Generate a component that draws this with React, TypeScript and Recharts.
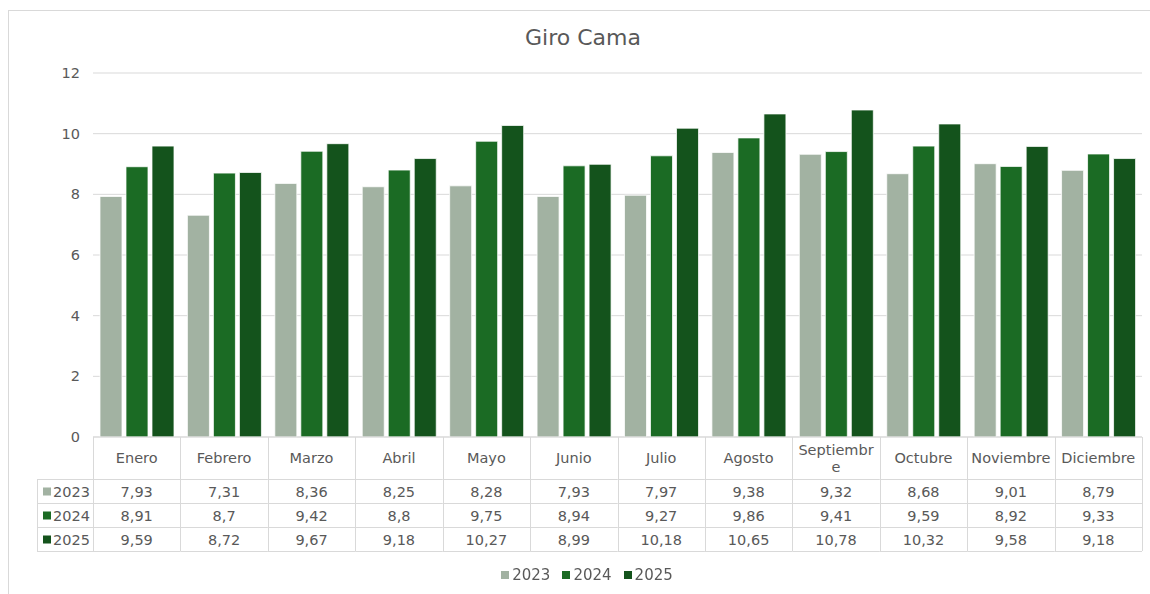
import React from 'react';
import { BarChart, Bar, XAxis, YAxis, CartesianGrid, Legend } from 'recharts';

const MONTHS = ['Enero', 'Febrero', 'Marzo', 'Abril', 'Mayo', 'Junio', 'Julio', 'Agosto', 'Septiembre', 'Octubre', 'Noviembre', 'Diciembre'];
const V2023 = [7.93, 7.31, 8.36, 8.25, 8.28, 7.93, 7.97, 9.38, 9.32, 8.68, 9.01, 8.79];
const V2024 = [8.91, 8.7, 9.42, 8.8, 9.75, 8.94, 9.27, 9.86, 9.41, 9.59, 8.92, 9.33];
const V2025 = [9.59, 8.72, 9.67, 9.18, 10.27, 8.99, 10.18, 10.65, 10.78, 10.32, 9.58, 9.18];
const SERIES_NAMES = ['2023', '2024', '2025'];
const SERIES_VALUES = [V2023, V2024, V2025];
const COLORS = ['#A2B2A2', '#1B6B24', '#14531C'];
const Y_TICKS = [0, 2, 4, 6, 8, 10, 12];

const data = MONTHS.map((m, i) => ({
  month: m,
  s2023: V2023[i],
  s2024: V2024[i],
  s2025: V2025[i],
}));
const KEYS = ['s2023', 's2024', 's2025'];

const W = 1150;
const H = 594;
const MARGIN = { top: 73, right: 8, left: 53, bottom: 0 };
const YAXIS_W = 40;
const XAXIS_H = 157;
const PLOT_LEFT = MARGIN.left + YAXIS_W;
const PLOT_W = W - PLOT_LEFT - MARGIN.right;
const PLOT_BOTTOM = H - MARGIN.bottom - XAXIS_H;
const BAND = PLOT_W / MONTHS.length;
const HEADER_H = 42;
const ROW_H = 24;
const LEG_LEFT = 37;
const FONT = '"DejaVu Sans", sans-serif';
const TEXT = '#595959';
const LINE = '#d9d9d9';

const fmt = (v: number) => String(v).replace('.', ',');

function wrapLabel(s: string): string[] {
  if (s.length > 9) return [s.slice(0, 9), s.slice(9)];
  return [s];
}

function TableTick(props: any) {
  const { x, payload } = props;
  const index = payload.index ?? props.index;
  const left = x - BAND / 2;
  const right = x + BAND / 2;
  const top = PLOT_BOTTOM;
  const bottom = top + HEADER_H + ROW_H * 3;
  const lines = wrapLabel(String(payload.value));
  const els: React.ReactNode[] = [];
  els.push(<line key="vl" x1={Math.round(left) + 0.5} x2={Math.round(left) + 0.5} y1={top} y2={bottom} stroke={LINE} />);
  els.push(<line key="vr" x1={Math.round(right) + 0.5} x2={Math.round(right) + 0.5} y1={top} y2={bottom} stroke={LINE} />);
  for (let r = 0; r <= 3; r++) {
    const yy = top + HEADER_H + ROW_H * r + 0.5;
    els.push(<line key={'h' + r} x1={left} x2={right} y1={yy} y2={yy} stroke={LINE} />);
  }
  const hc = top + HEADER_H / 2;
  if (lines.length === 1) {
    els.push(
      <text key="lab" x={x} y={hc} textAnchor="middle" dominantBaseline="central" fontSize={14.5} fill={TEXT} fontFamily={FONT}>
        {lines[0]}
      </text>
    );
  } else {
    lines.forEach((ln, k) => {
      els.push(
        <text key={'lab' + k} x={x} y={hc - 8 + k * 17} textAnchor="middle" dominantBaseline="central" fontSize={14.5} fill={TEXT} fontFamily={FONT}>
          {ln}
        </text>
      );
    });
  }
  SERIES_VALUES.forEach((vals, s) => {
    els.push(
      <text key={'v' + s} x={x} y={top + HEADER_H + ROW_H * s + ROW_H / 2 + 0.5} textAnchor="middle" dominantBaseline="central" fontSize={14.5} fill={TEXT} fontFamily={FONT}>
        {fmt(vals[index])}
      </text>
    );
  });
  if (index === 0) {
    els.push(<line key="ll" x1={LEG_LEFT + 0.5} x2={LEG_LEFT + 0.5} y1={top + HEADER_H} y2={bottom} stroke={LINE} />);
    for (let r = 0; r <= 3; r++) {
      const yy = top + HEADER_H + ROW_H * r + 0.5;
      els.push(<line key={'lh' + r} x1={LEG_LEFT} x2={left} y1={yy} y2={yy} stroke={LINE} />);
    }
    SERIES_NAMES.forEach((nm, s) => {
      const cy = top + HEADER_H + ROW_H * s + ROW_H / 2 + 0.5;
      els.push(<rect key={'ls' + s} x={LEG_LEFT + 6} y={cy - 4} width={8} height={8} fill={COLORS[s]} />);
      els.push(
        <text key={'lt' + s} x={LEG_LEFT + 16} y={cy} dominantBaseline="central" fontSize={14.5} fill={TEXT} fontFamily={FONT}>
          {nm}
        </text>
      );
    });
  }
  return <g>{els}</g>;
}

function LegendContent(props: any) {
  const { payload } = props;
  return (
    <div style={{ display: 'flex', justifyContent: 'center', alignItems: 'center', gap: 12, fontFamily: FONT, fontSize: 15, color: TEXT }}>
      {(payload || []).map((p: any) => (
        <div key={p.value} style={{ display: 'flex', alignItems: 'center' }}>
          <span style={{ display: 'inline-block', width: 8, height: 8, background: p.color, marginRight: 3 }} />
          <span>{p.value}</span>
        </div>
      ))}
    </div>
  );
}

export default function App() {
  return (
    <div style={{ position: 'fixed', left: 0, top: 0, width: W, height: H, background: '#fff' }}>
      <div style={{ position: 'absolute', left: 8, top: 10, width: W, height: H, borderLeft: '1px solid #d9d9d9', borderTop: '1px solid #d9d9d9' }} />
      <div style={{ position: 'absolute', left: 0, top: 25, width: 1166, textAlign: 'center', fontFamily: FONT, fontSize: 22, color: TEXT }}>
        Giro Cama
      </div>
      <div style={{ position: 'absolute', left: 0, top: 0 }}>
        <BarChart width={W} height={H} data={data} margin={MARGIN} barCategoryGap="8%" barGap={4}>
          <CartesianGrid vertical={false} stroke={LINE} />
          <XAxis
            dataKey="month"
            height={XAXIS_H}
            interval={0}
            tickLine={false}
            axisLine={{ stroke: LINE }}
            tick={(p: any) => <TableTick {...p} />}
          />
          <YAxis
            width={YAXIS_W}
            domain={[0, 12]}
            ticks={Y_TICKS}
            axisLine={false}
            tickLine={false}
            tickMargin={7}
            tick={{ fill: TEXT, fontSize: 14.5, fontFamily: FONT }}
          />
          <Legend
            verticalAlign="middle"
            layout="horizontal"
            align="center"
            content={<LegendContent />}
            wrapperStyle={{ top: 566, left: 12, width: W }}
          />
          {KEYS.map((k, i) => (
            <Bar key={k} dataKey={k} name={SERIES_NAMES[i]} fill={COLORS[i]} stroke="#ffffff" strokeWidth={0.75} isAnimationActive={false} />
          ))}
        </BarChart>
      </div>
    </div>
  );
}
